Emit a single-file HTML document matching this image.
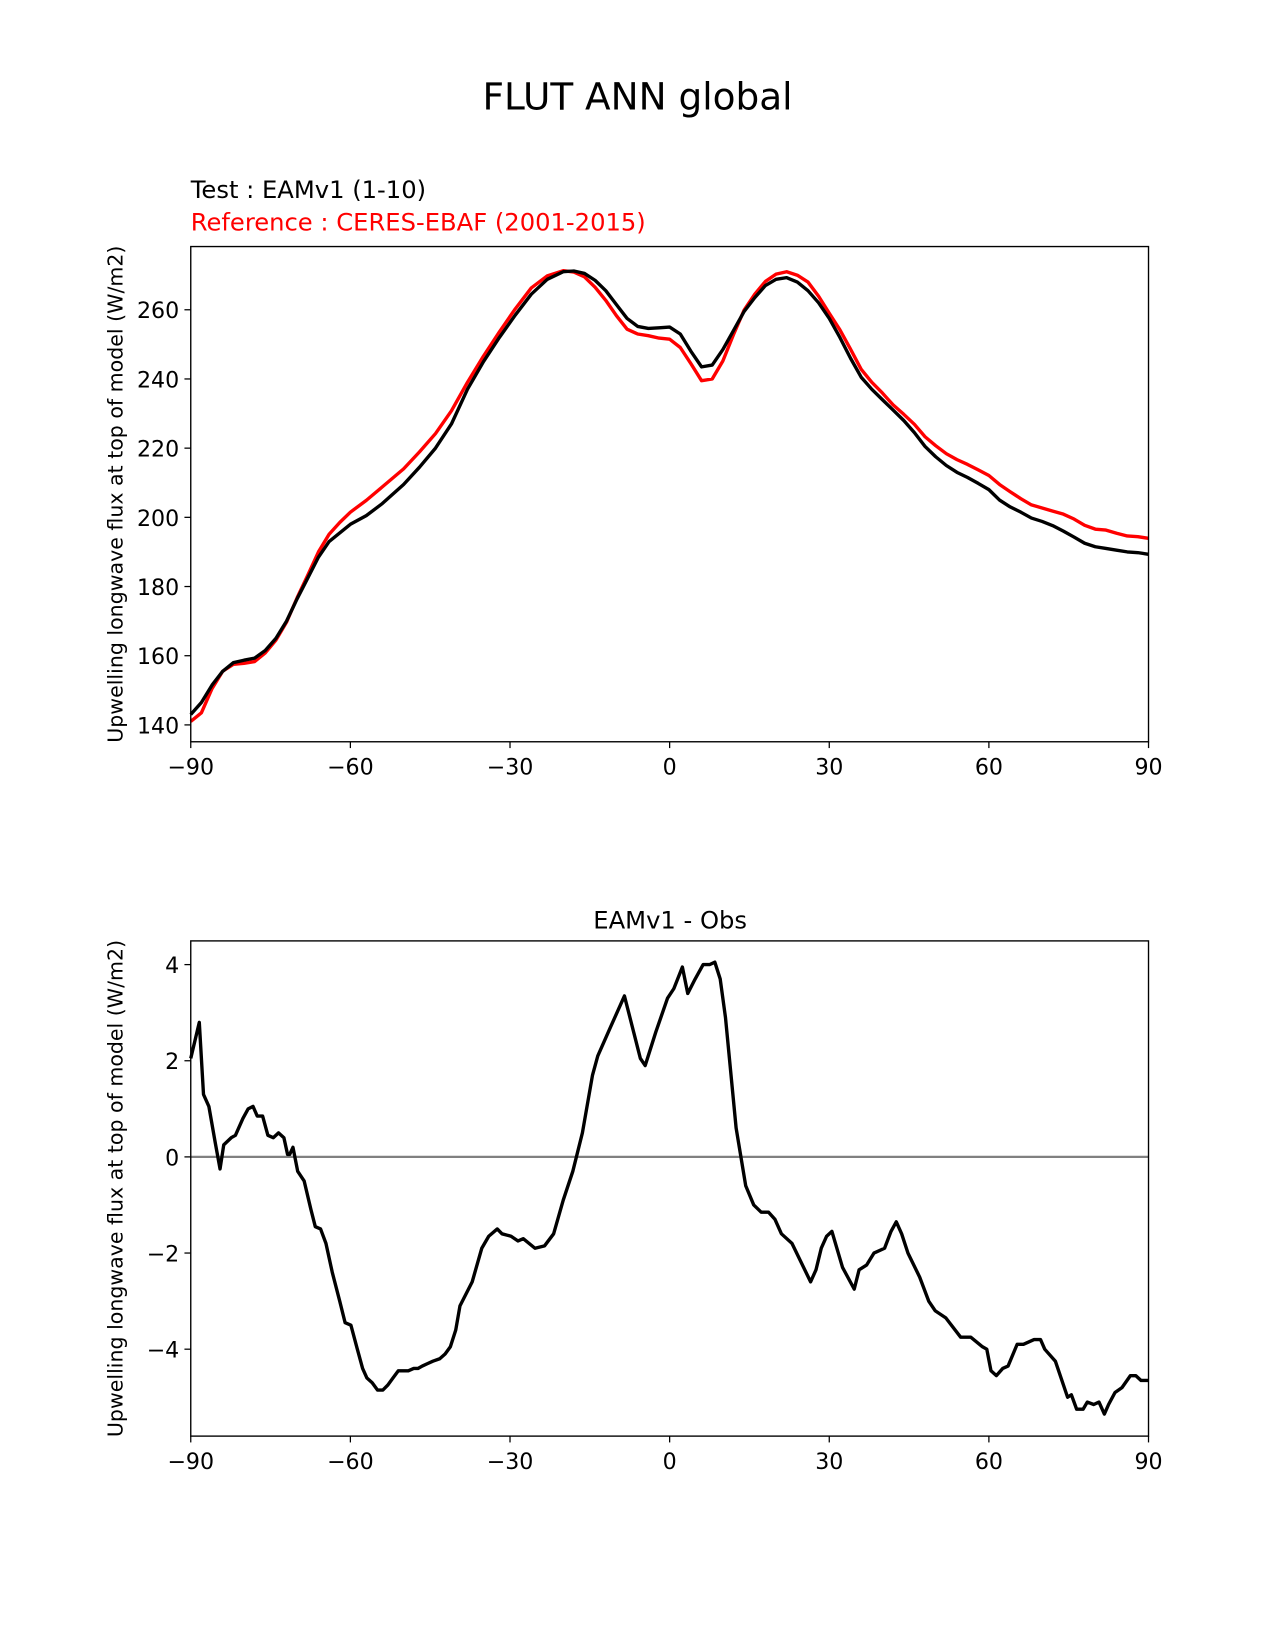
<!DOCTYPE html>
<html><head><meta charset="utf-8"><style>
html,body{margin:0;padding:0;background:#fff;}
svg{display:block;font-family:"DejaVu Sans","Liberation Sans",sans-serif;}
</style></head><body>
<svg id="fig" width="1275" height="1650" viewBox="0 0 1210 1566" xmlns="http://www.w3.org/2000/svg">
<rect width="1210" height="1566" fill="#fff"/>
<text x="605" y="104" text-anchor="middle" font-size="35.5">FLUT ANN global</text>
<text x="181" y="188" font-size="23">Test : EAMv1 (1-10)</text>
<text x="181" y="219" font-size="23" fill="red">Reference : CERES-EBAF (2001-2015)</text>
<text x="636" y="881" text-anchor="middle" font-size="23">EAMv1 - Obs</text>
<g id="topPlot"></g>
<g id="botPlot"></g>
</svg>
<script>
const topLat = [-90,-88,-86,-84,-82,-80,-78,-76,-74,-72,-70,-68,-66,-64,-62,-60,-57,-54,-50,-47,-44,-41,-38,-35,-32,-29,-26,-23,-20,-18,-16,-14,-12,-10,-8,-6,-4,-2,0,2,4,6,8,10,12,14,16,18,20,22,24,26,28,30,32,34,36,38,40,42,44,46,48,50,52,54,56,58,60,62,64,66,68,70,72,74,76,78,80,82,84,86,88,90];
const testVals = [143,146.5,151.5,155.5,158,158.7,159.3,161.5,165,170,176.5,182.5,188.5,193,195.5,198,200.5,204,209.5,214.5,220,227,237,245,252,258.5,264.5,268.8,271,271.2,270.5,268.5,265.5,261.5,257.5,255.2,254.6,254.8,255,253,248,243.5,244,248.5,254,259.5,263.5,267,268.8,269.3,268,265.5,262,257.5,252,246,240.5,237,234,231,228,224.5,220.5,217.5,215,213,211.5,209.8,208,205,203,201.5,199.8,198.8,197.6,196,194.3,192.5,191.5,191,190.5,190,189.8,189.3];
const refVals = [141,143.5,150.5,155.5,157.5,157.8,158.3,160.8,164.5,169.7,176.8,183.3,190,195.1,198.5,201.5,204.9,208.8,214,218.9,224.2,230.8,239,246.6,253.6,260.3,266.3,269.8,271.3,270.9,269.5,266.5,262.7,258.3,254.4,253,252.5,251.8,251.5,249.1,244.4,239.5,240,245.2,252.8,259.9,264.5,268.2,270.3,271,270,268,263.9,259,254.2,248.6,242.8,239,235.9,232.5,229.8,226.9,223.3,220.7,218.4,216.7,215.3,213.7,212.1,209.5,207.4,205.4,203.6,202.7,201.8,200.9,199.5,197.7,196.6,196.3,195.4,194.6,194.4,193.95];
const diffLat = [-90,-88.4,-87.6,-86.6,-85.4,-84.5,-83.8,-82.4,-81.6,-80.2,-79.2,-78.3,-77.5,-76.5,-75.5,-74.5,-73.5,-72.5,-71.8,-71.4,-70.8,-69.9,-68.7,-67.4,-66.6,-65.6,-64.6,-63.4,-62,-61,-59.9,-58.7,-57.7,-56.9,-55.9,-54.9,-53.9,-53,-52,-51,-50.1,-49.1,-48.1,-47.3,-46.5,-45.5,-44.5,-43.2,-42.2,-41.2,-40.2,-39.4,-37.1,-35.3,-34,-32.4,-31.5,-29.8,-28.5,-27.5,-25.3,-23.5,-21.8,-20,-18.2,-16.4,-14.5,-13.5,-11.1,-8.5,-5.5,-4.6,-2.6,-0.4,0.8,2.4,3.4,4.8,6.3,7.5,8.5,9.5,10.5,12.5,14.3,15.8,17.2,18.6,19.8,21,23,26.5,27.5,28.5,29.5,30.5,32.5,34.7,35.6,37,38.4,40.4,41.6,42.6,43.6,44.8,47,48.7,49.9,51.9,54.7,56.6,58.8,59.6,60.4,61.4,62.6,63.6,65.3,66.5,68.5,69.7,70.5,72.5,74.8,75.5,76.5,77.7,78.5,79.7,80.7,81.7,82.5,83.7,85,86.6,87.6,88.6,90];
const diffVals = [2.05,2.8,1.3,1.05,0.3,-0.25,0.25,0.4,0.45,0.8,1.0,1.05,0.85,0.85,0.45,0.4,0.5,0.4,0.05,0.05,0.2,-0.3,-0.5,-1.1,-1.45,-1.5,-1.8,-2.4,-3.0,-3.45,-3.5,-4.0,-4.4,-4.6,-4.7,-4.85,-4.85,-4.75,-4.6,-4.45,-4.45,-4.45,-4.4,-4.4,-4.35,-4.3,-4.25,-4.2,-4.1,-3.95,-3.6,-3.1,-2.6,-1.9,-1.65,-1.5,-1.6,-1.65,-1.75,-1.7,-1.9,-1.85,-1.6,-0.9,-0.3,0.5,1.7,2.1,2.7,3.35,2.05,1.9,2.6,3.3,3.5,3.95,3.4,3.7,4.0,4.0,4.05,3.7,2.9,0.6,-0.6,-1.0,-1.15,-1.15,-1.3,-1.6,-1.8,-2.6,-2.35,-1.9,-1.65,-1.55,-2.3,-2.75,-2.35,-2.25,-2.0,-1.9,-1.55,-1.35,-1.6,-2.0,-2.5,-3.0,-3.2,-3.35,-3.75,-3.75,-3.95,-4.0,-4.45,-4.55,-4.4,-4.35,-3.9,-3.9,-3.8,-3.8,-4.0,-4.25,-5.0,-4.95,-5.25,-5.25,-5.1,-5.15,-5.1,-5.35,-5.15,-4.9,-4.8,-4.55,-4.55,-4.65,-4.65];
const xTicks = [-90,-60,-30,0,30,60,90];
const xTickLabels = ["\u221290","\u221260","\u221230","0","30","60","90"];
const topYTicks = [140,160,180,200,220,240,260];
const botYTicks = [-4,-2,0,2,4];
const botYTickLabels = ["\u22124","\u22122","0","2","4"];

const NS = "http://www.w3.org/2000/svg";
function mk(parent, tag, attrs){const e=document.createElementNS(NS,tag);for(const k in attrs)e.setAttribute(k,attrs[k]);parent.appendChild(e);return e;}
const L=181,R=1090;
const xs = v => L + (v+90)/180*(R-L);
const topY = v => 688 - (v-140)*(394/120);
const botY = v => 1098 - v*(365/8);

function axes(g, T, B, yTicks, yLabels, yfn, prefix){
  xTicks.forEach((t,i)=>{
    const tk=mk(g,'line',{x1:xs(t),x2:xs(t),y1:B,y2:B+6,stroke:'#000','stroke-width':1.2});
    
    
    const tx=mk(g,'text',{x:xs(t),y:B+31,'text-anchor':'middle','font-size':21});
    tx.textContent=xTickLabels[i];
    
    
  });
  yTicks.forEach((t,i)=>{
    const y=yfn(t);
    const tk=mk(g,'line',{x1:L-6,x2:L,y1:y,y2:y,stroke:'#000','stroke-width':1.2});
    
    
    const tx=mk(g,'text',{x:L-11,y:y+8,'text-anchor':'end','font-size':21});
    tx.textContent=yLabels[i];
    
    
  });
  const yl=mk(g,'text',{x:0,y:0,'text-anchor':'middle','font-size':19.5,transform:`translate(116,${(T+B)/2}) rotate(-90)`});
  yl.textContent='Upwelling longwave flux at top of model (W/m2)';
  
  
}
function line(g, lat, vals, yfn, color, name, w){
  const p=mk(g,'polyline',{points:lat.map((v,i)=>xs(v).toFixed(1)+','+yfn(vals[i]).toFixed(1)).join(' '),fill:'none',stroke:color,'stroke-width':w,'stroke-linejoin':'round'});
  
  
}
const topG=document.getElementById('topPlot');
line(topG, topLat, refVals, topY, 'red', 'reference-line', 3.2);
line(topG, topLat, testVals, topY, '#000', 'test-line', 3.2);
const f1=mk(topG,'rect',{x:L,y:234,width:R-L,height:470,fill:'none',stroke:'#000','stroke-width':1.3});


axes(topG,234,704,topYTicks,topYTicks.map(String),topY,'top');

const botG=document.getElementById('botPlot');
const z=mk(botG,'line',{x1:L,x2:R,y1:botY(0),y2:botY(0),stroke:'#808080','stroke-width':2.2});


line(botG, diffLat, diffVals, botY, '#000', 'diff-line', 3.2);
const f2=mk(botG,'rect',{x:L,y:893,width:R-L,height:470,fill:'none',stroke:'#000','stroke-width':1.3});


axes(botG,893,1363,botYTicks,botYTickLabels,botY,'diff');
</script>
</body></html>
